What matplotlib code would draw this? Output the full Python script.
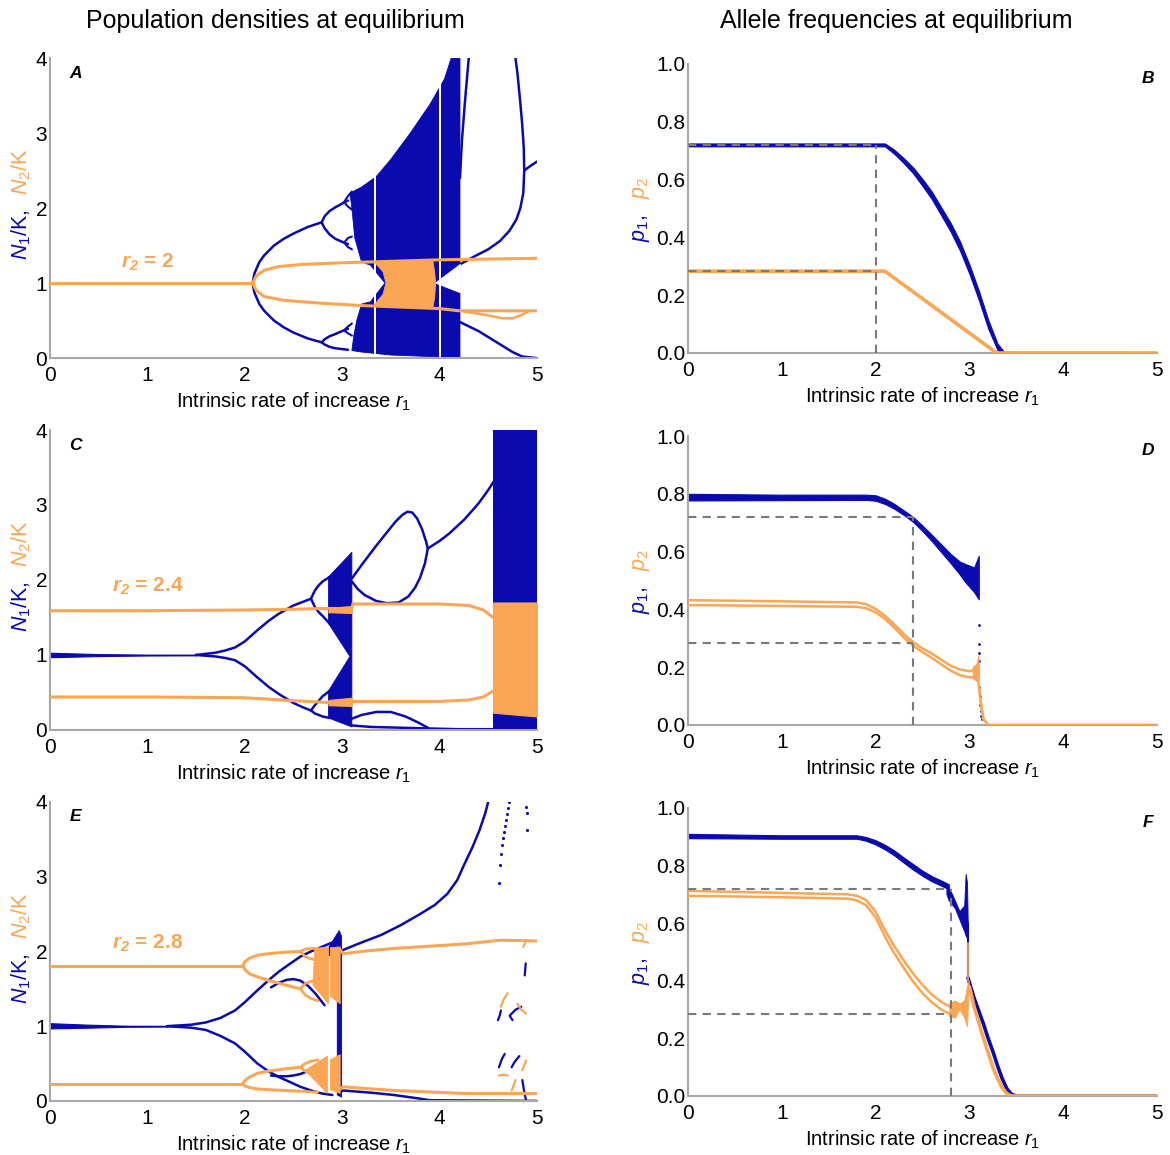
import matplotlib
matplotlib.use("Agg")
import matplotlib.pyplot as plt

plt.rcParams['font.family'] = ['Liberation Sans', 'DejaVu Sans']
plt.rcParams['mathtext.fontset'] = 'custom'
plt.rcParams['mathtext.rm'] = 'Liberation Sans'
plt.rcParams['mathtext.it'] = 'Liberation Sans:italic'
plt.rcParams['mathtext.bf'] = 'Liberation Sans:bold:italic'

BLUE = '#0a0aae'
ORANGE = '#fba655'
GREY = '#7a7a7a'

### panel A : r2 = 2 ###
A_or_flat_x = [0, 2.08]
A_or_flat_y = [1.0, 1.0]
A_br_x = [2.08, 2.12, 2.2, 2.35, 2.6, 3.0, 3.5, 4.0, 4.5, 5.0]
A_or_up_y = [1.0, 1.1, 1.17, 1.22, 1.25, 1.27, 1.29, 1.31, 1.32, 1.33]
A_or_lo_x = [2.08, 2.12, 2.2, 2.4, 2.8, 3.2, 3.6, 4.0, 4.2, 4.6, 5.0]
A_or_lo_y = [1.0, 0.9, 0.82, 0.77, 0.73, 0.70, 0.68, 0.66, 0.63, 0.63, 0.63]
A_or_loop_x = [4.25, 4.45, 4.65, 4.75, 4.85, 4.92]
A_or_loop_y = [0.62, 0.58, 0.53, 0.53, 0.58, 0.63]
A_or_fill_x = [3.33, 3.42, 3.45, 3.42, 3.33, 3.93, 3.95, 3.96, 3.95, 3.93]
A_or_fill_y = [1.28, 1.15, 1.0, 0.85, 0.71, 0.66, 0.8, 1.0, 1.15, 1.31]

A_p2_x = [2.08, 2.1, 2.15, 2.2, 2.3, 2.4, 2.5, 2.65, 2.79]
A_bl_up_y = [1.0, 1.13, 1.28, 1.37, 1.5, 1.59, 1.66, 1.75, 1.81]
A_bl_lo_y = [1.0, 0.87, 0.72, 0.63, 0.5, 0.41, 0.34, 0.26, 0.21]
A_p4_x = [2.79, 2.82, 2.87, 2.93, 3.0, 3.06]
A_p4_y = [[1.81, 1.89, 1.96, 2.01, 2.06, 2.1],
          [1.81, 1.73, 1.65, 1.59, 1.55, 1.52],
          [0.21, 0.25, 0.29, 0.32, 0.36, 0.39],
          [0.21, 0.18, 0.15, 0.13, 0.12, 0.11]]
A_p8_x = [3.02, 3.06, 3.1]
A_p8_y = [[2.08, 2.16, 2.22], [2.08, 2.02, 1.98],
          [1.54, 1.6, 1.62], [1.54, 1.48, 1.45],
          [0.37, 0.42, 0.46], [0.37, 0.33, 0.3]]
A_chaos_x = [3.08, 3.2, 3.35, 3.5, 3.7, 3.9, 4.05, 4.12, 4.21, 4.21,
             4.12, 3.9, 3.5, 3.2, 3.1, 3.12, 3.15, 3.2, 3.29, 3.44, 3.29, 3.2, 3.13, 3.1]
A_chaos_y = [2.2, 2.28, 2.42, 2.65, 3.0, 3.38, 3.72, 4.0, 4.0, 0.0,
             0.0, 0.02, 0.04, 0.08, 0.1, 0.3, 0.5, 0.72, 0.75, 1.0, 1.24, 1.28, 1.6, 2.0]
A_windows = [(3.33, 3.345), (3.99, 4.015)]
A_wedge_r_x = [3.96, 4.215, 4.215]
A_wedge_r_y = [1.0, 1.25, 0.87]
A_bl_r1_x = [4.30, 4.26, 4.23, 4.21]
A_bl_r1_y = [4.0, 3.4, 2.9, 2.4]
A_bl_r2_x = [4.21, 4.35, 4.5, 4.62, 4.72, 4.79, 4.83, 4.86, 4.87, 4.865, 4.85, 4.83, 4.80, 4.78]
A_bl_r2_y = [1.25, 1.35, 1.45, 1.56, 1.7, 1.85, 2.0, 2.2, 2.5, 2.8, 3.1, 3.4, 3.8, 4.0]
A_bl_r3_x = [4.87, 4.92, 5.0]
A_bl_r3_y = [2.5, 2.55, 2.62]
A_bl_r4_x = [4.21, 4.4, 4.6, 4.75, 4.85, 5.0]
A_bl_r4_y = [0.48, 0.36, 0.2, 0.08, 0.02, 0.0]

### panel B ###
B_bl_x = [0, 2.1, 2.2, 2.3, 2.4, 2.5, 2.6, 2.7, 2.8, 2.9, 3.0, 3.1, 3.2, 3.3, 3.37, 5.0]
B_bl_hi = [0.725, 0.725, 0.703, 0.674, 0.642, 0.602, 0.558, 0.504, 0.45, 0.386, 0.306, 0.216, 0.115, 0.032, 0.004, 0.003]
B_bl_lo = [0.715, 0.715, 0.689, 0.657, 0.622, 0.578, 0.532, 0.476, 0.42, 0.354, 0.274, 0.184, 0.085, 0.01, 0.0, 0.0]
B_or_x = [0, 2.1, 3.29, 5.0]
B_or_y = [0.283, 0.283, 0.0, 0.0]
B_guide = (2.0, 0.72, 0.283)

### panel C : r2 = 2.4 ###
C_or_x = [0, 1, 2, 2.5, 2.8, 3.0, 3.1, 3.11, 3.5, 4.0, 4.3, 4.45, 4.55]
C_or_up_y = [1.59, 1.59, 1.6, 1.61, 1.62, 1.62, 1.63, 1.68, 1.68, 1.68, 1.66, 1.6, 1.5]
C_or_lo_y = [0.44, 0.44, 0.43, 0.39, 0.37, 0.36, 0.36, 0.38, 0.38, 0.38, 0.40, 0.44, 0.52]
C_or_band_x = [2.86, 3.1]
C_or_band = [([1.57, 1.56], [1.63, 1.65]), ([0.33, 0.32], [0.40, 0.43])]
C_or_fill_x = [4.55, 5.0]
C_or_fill_lo = [0.23, 0.18]
C_or_fill_hi = [1.70, 1.70]

C_bl_flat_x = [0, 0.5, 1.0, 1.5]
C_bl_flat_lo = [0.97, 0.985, 0.993, 0.995]
C_bl_flat_hi = [1.03, 1.012, 1.005, 1.005]
C_p2_x = [1.5, 1.7, 1.8, 1.9, 2.0, 2.13, 2.25, 2.35, 2.5, 2.6, 2.68]
C_bl_up_y = [1.0, 1.03, 1.06, 1.1, 1.18, 1.33, 1.46, 1.55, 1.66, 1.71, 1.75]
C_bl_lo_y = [1.0, 0.98, 0.96, 0.93, 0.85, 0.70, 0.57, 0.48, 0.36, 0.3, 0.26]
C_p4_x = [2.68, 2.72, 2.76, 2.8, 2.87]
C_p4_y = [[1.75, 1.86, 1.93, 1.98, 2.04],
          [1.75, 1.64, 1.57, 1.52, 1.42],
          [0.26, 0.33, 0.39, 0.45, 0.52],
          [0.26, 0.22, 0.2, 0.18, 0.16]]
C_chaos_x = [2.86, 3.1, 3.1, 2.86, 2.86, 3.08, 2.86]
C_chaos_y = [2.04, 2.37, 0.04, 0.16, 0.52, 0.98, 1.42]
C_loop_up_x = [3.1, 3.2, 3.34, 3.45, 3.55, 3.62, 3.67, 3.72, 3.77, 3.82, 3.86, 3.88]
C_loop_up_y = [2.02, 2.2, 2.44, 2.62, 2.78, 2.87, 2.91, 2.9, 2.82, 2.68, 2.52, 2.42]
C_loop_lo_x = [3.1, 3.16, 3.23, 3.35, 3.46, 3.58, 3.68, 3.75, 3.8, 3.85, 3.88]
C_loop_lo_y = [1.98, 1.88, 1.8, 1.72, 1.69, 1.70, 1.78, 1.9, 2.03, 2.22, 2.42]
C_after_x = [3.88, 4.0, 4.1, 4.25, 4.4, 4.5, 4.56]
C_after_y = [2.42, 2.52, 2.62, 2.8, 3.02, 3.2, 3.32]
C_low_up_x = [3.1, 3.2, 3.35, 3.5, 3.65, 3.78, 3.88]
C_low_up_y = [0.15, 0.2, 0.24, 0.24, 0.18, 0.1, 0.03]
C_low_lo_x = [3.1, 3.3, 3.6, 3.88, 4.2, 4.56]
C_low_lo_y = [0.06, 0.04, 0.03, 0.02, 0.01, 0.01]
C_chaos2_x = [4.55, 5.0]

### panel D ###
D_bl_x = [0, 1.0, 1.9, 2.0, 2.1, 2.2, 2.3, 2.4, 2.5, 2.6, 2.7, 2.8, 2.9, 2.95, 3.05, 3.1]
D_bl_hi = [0.800, 0.797, 0.797, 0.795, 0.783, 0.765, 0.743, 0.72, 0.69, 0.658, 0.625, 0.592, 0.565, 0.558, 0.545, 0.585]
D_bl_lo = [0.777, 0.778, 0.779, 0.776, 0.765, 0.748, 0.727, 0.703, 0.671, 0.636, 0.598, 0.56, 0.52, 0.497, 0.46, 0.435]
D_bl_dots_x = [3.1, 3.1, 3.1, 3.1, 3.1, 3.11, 3.11, 3.12, 3.12, 3.13]
D_bl_dots_y = [0.345, 0.28, 0.25, 0.22, 0.13, 0.10, 0.07, 0.05, 0.03, 0.02]
D_or_x = [0, 1, 1.8, 1.9, 2.0, 2.1, 2.2, 2.3, 2.4, 2.5, 2.6, 2.7, 2.8, 2.9, 3.0, 3.05]
D_or_a = [0.432, 0.428, 0.424, 0.418, 0.402, 0.378, 0.348, 0.315, 0.287, 0.265, 0.247, 0.226, 0.205, 0.192, 0.186, 0.19]
D_or_b = [0.415, 0.412, 0.409, 0.404, 0.39, 0.367, 0.337, 0.303, 0.275, 0.252, 0.232, 0.21, 0.188, 0.172, 0.165, 0.165]
D_or_spike_x = [3.04, 3.08, 3.1, 3.11, 3.1, 3.08, 3.04]
D_or_spike_y = [0.20, 0.21, 0.24, 0.18, 0.14, 0.15, 0.16]
D_or_drop_x = [3.1, 3.12, 3.15, 3.2, 5.0]
D_or_drop_y = [0.14, 0.08, 0.02, 0.0, 0.0]
D_guide = (2.4, 0.72, 0.283)

### panel E : r2 = 2.8 ###
E_or_flat_x = [0, 1.98]
E_or_up_flat = [1.81, 1.81]
E_or_lo_flat = [0.23, 0.23]
E_br_x = [1.98, 2.0, 2.05, 2.13, 2.25, 2.42, 2.57]
E_or_up_a = [1.81, 1.86, 1.91, 1.95, 1.97, 1.99, 2.0]
E_or_up_b = [1.81, 1.76, 1.7, 1.66, 1.61, 1.55, 1.5]
E_or_lo_a = [0.23, 0.27, 0.32, 0.37, 0.4, 0.43, 0.45]
E_or_lo_b = [0.23, 0.2, 0.18, 0.16, 0.15, 0.14, 0.13]
E_or_p4_x = [2.57, 2.62, 2.68, 2.75]
E_or_p4_y = [[2.0, 2.03, 2.04, 2.04],
             [2.0, 1.93, 1.9, 1.88],
             [1.5, 1.57, 1.6, 1.62],
             [1.5, 1.42, 1.37, 1.34],
             [0.45, 0.5, 0.53, 0.55],
             [0.45, 0.4, 0.37, 0.35],
             [0.13, 0.13, 0.12, 0.12]]
E_or_tri = [([2.72, 2.86, 2.86, 2.7], [2.04, 2.06, 1.3, 1.55]),
            ([2.62, 2.85, 2.85], [0.41, 0.6, 0.1]),
            ([2.88, 2.98, 2.98, 2.88], [2.05, 2.06, 1.3, 1.4]),
            ([2.88, 2.98, 2.98, 2.88], [0.55, 0.62, 0.1, 0.15])]
E_or_after_x = [2.98, 3.01, 3.2, 3.53, 3.9, 4.26, 4.63, 5.0]
E_or_after_up = [2.02, 1.97, 2.0, 2.04, 2.07, 2.1, 2.15, 2.14]
E_or_after_lo = [0.16, 0.19, 0.17, 0.14, 0.12, 0.10, 0.10, 0.10]

E_bl_flat_x = [0, 0.4, 0.8, 1.2]
E_bl_flat_lo = [0.97, 0.98, 0.992, 0.995]
E_bl_flat_hi = [1.04, 1.02, 1.006, 1.005]
E_p2_x = [1.2, 1.45, 1.6, 1.75, 1.9, 2.0, 2.13, 2.25, 2.35, 2.47, 2.57, 2.68, 2.79, 2.9]
E_bl_up_y = [1.0, 1.02, 1.05, 1.11, 1.21, 1.32, 1.48, 1.62, 1.73, 1.84, 1.93, 2.0, 2.06, 2.12]
E_bl_lo_y = [1.0, 0.98, 0.95, 0.87, 0.77, 0.66, 0.50, 0.39, 0.32, 0.25, 0.19, 0.14, 0.10, 0.08]
E_bl_sec_x = [2.27, 2.35, 2.43, 2.5, 2.57, 2.65, 2.73, 2.82]
E_bl_sec_up = [1.52, 1.58, 1.62, 1.63, 1.61, 1.54, 1.43, 1.28]
E_bl_sec_lo = [0.34, 0.33, 0.33, 0.34, 0.36, 0.4, 0.46, 0.55]
E_bl_chaos_x = [2.86, 2.97, 2.995, 2.995, 2.95, 2.95, 2.86]
E_bl_chaos_y = [2.05, 2.28, 2.2, 0.05, 0.08, 1.9, 1.95]
E_bl_after_x = [2.98, 3.01, 3.2, 3.4, 3.6, 3.8, 3.95, 4.08, 4.18, 4.26, 4.34, 4.41, 4.47, 4.5]
E_bl_after_y = [1.98, 2.02, 2.12, 2.22, 2.35, 2.5, 2.62, 2.77, 2.95, 3.18, 3.4, 3.62, 3.85, 4.0]
E_bl_low_x = [2.98, 3.01, 3.3, 3.53, 3.75, 3.9, 5.0]
E_bl_low_y = [0.12, 0.14, 0.11, 0.08, 0.04, 0.01, 0.0]
E_bl_dots_x = [4.61, 4.62, 4.63, 4.64, 4.65, 4.66, 4.67, 4.68, 4.69, 4.70, 4.71, 4.89, 4.90, 4.90]
E_bl_dots_y = [2.92, 3.15, 3.3, 3.42, 3.52, 3.6, 3.68, 3.76, 3.84, 3.92, 4.0, 3.93, 3.85, 3.62]
E_bl_bits = [([4.875, 4.885], [1.68, 1.84]),
             ([4.60, 4.62, 4.63], [1.08, 1.15, 1.21]),
             ([4.84, 4.78, 4.72, 4.75], [1.26, 1.22, 1.14, 1.08]),
             ([4.61, 4.64, 4.67], [0.45, 0.56, 0.63]),
             ([4.82, 4.77, 4.74], [0.6, 0.52, 0.45]),
             ([4.85, 4.87, 4.89], [0.28, 0.12, 0.0])]
E_or_bits = [([4.61, 4.66, 4.70], [0.34, 0.35, 0.34]),
             ([4.74, 4.76, 4.78], [0.14, 0.2, 0.28]),
             ([4.85, 4.87, 4.89], [0.41, 0.48, 0.54]),
             ([4.63, 4.66, 4.70], [1.26, 1.36, 1.44]),
             ([4.80, 4.84, 4.89], [1.30, 1.22, 1.17]),
             ([4.86, 4.88, 4.89], [2.06, 2.12, 2.15])]

### panel F ###
F_bl_x = [0, 1.0, 1.8, 1.9, 2.0, 2.1, 2.2, 2.3, 2.4, 2.5, 2.6, 2.7, 2.78]
F_bl_hi = [0.910, 0.905, 0.905, 0.899, 0.888, 0.872, 0.852, 0.828, 0.805, 0.782, 0.763, 0.748, 0.735]
F_bl_lo = [0.895, 0.893, 0.893, 0.886, 0.873, 0.856, 0.835, 0.81, 0.786, 0.764, 0.745, 0.73, 0.718]
F_bl_chaos_x = [2.76, 2.82, 2.9, 2.95, 2.965, 2.98, 2.99, 2.97, 2.95, 2.9, 2.85, 2.78, 2.76]
F_bl_chaos_y = [0.735, 0.70, 0.64, 0.66, 0.77, 0.74, 0.56, 0.55, 0.57, 0.61, 0.65, 0.68, 0.70]
F_bl_decl_x = [2.985, 3.05, 3.1, 3.15, 3.2, 3.25, 3.3, 3.35, 3.4, 3.45, 3.5, 5.0]
F_bl_decl_y = [0.41, 0.34, 0.295, 0.25, 0.20, 0.155, 0.105, 0.06, 0.025, 0.005, 0.0, 0.0]
F_or_x = [0, 1.0, 1.7, 1.8, 1.9, 2.0, 2.1, 2.2, 2.3, 2.4, 2.5, 2.6, 2.7, 2.79]
F_or_a = [0.712, 0.705, 0.70, 0.695, 0.68, 0.64, 0.575, 0.52, 0.47, 0.425, 0.385, 0.352, 0.327, 0.31]
F_or_b = [0.695, 0.69, 0.685, 0.679, 0.662, 0.62, 0.553, 0.495, 0.445, 0.397, 0.357, 0.325, 0.3, 0.285]
F_or_chaos_x = [2.79, 2.85, 2.9, 2.95, 2.98, 3.0, 2.98, 2.95, 2.9, 2.85, 2.79]
F_or_chaos_y = [0.32, 0.33, 0.32, 0.33, 0.38, 0.40, 0.24, 0.27, 0.30, 0.27, 0.275]
F_or_decl_x = [3.0, 3.05, 3.1, 3.15, 3.2, 3.25, 3.3, 3.35, 3.4, 3.45, 5.0]
F_or_decl_y = [0.38, 0.31, 0.255, 0.2, 0.15, 0.1, 0.06, 0.028, 0.008, 0.0, 0.0]
F_guide = (2.8, 0.72, 0.283)


def line(ax, x, y, c, lw=1.8, z=2):
    ax.plot(x, y, color=c, lw=lw, zorder=z, solid_capstyle='round', solid_joinstyle='round')


def band(ax, x, lo, hi, c, z=2):
    ax.fill_between(x, lo, hi, color=c, lw=0.8, zorder=z)


def poly(ax, x, y, c, z=2):
    ax.fill(x, y, color=c, lw=0.6, zorder=z)


def style(ax, ymax, letter, yticks, yfmt):
    ax.set_xlim(0, 5)
    ax.set_ylim(0, ymax)
    for s in ['top', 'right']:
        ax.spines[s].set_visible(False)
    for s in ['left', 'bottom']:
        ax.spines[s].set_color('#a8a8a8')
        ax.spines[s].set_linewidth(1.5)
    ax.set_xticks(range(6))
    ax.set_yticks(yticks)
    ax.set_yticklabels([yfmt.format(v) for v in yticks])
    ax.tick_params(length=0, labelsize=15)
    ax.tick_params(axis='x', pad=6)
    ax.tick_params(axis='y', pad=2)
    ax.set_xlabel('Intrinsic rate of increase $\\mathit{r}_1$', fontsize=14.5, labelpad=4)
    ax.text(0.052 if ymax == 4 else 0.981, 0.95, letter, transform=ax.transAxes,
            fontsize=12.5, fontweight='bold', style='italic', ha='center', va='center')


def ylab_density(ax):
    ax.text(-0.06, 0.41, '$N_1$/K,', transform=ax.transAxes, rotation=90, color=BLUE,
            fontsize=15.5, ha='center', va='center')
    ax.text(-0.06, 0.62, '$N_2$/K', transform=ax.transAxes, rotation=90, color=ORANGE,
            fontsize=15.5, ha='center', va='center')


def ylab_freq(ax):
    ax.text(-0.098, 0.433, '$p_1$,', transform=ax.transAxes, rotation=90, color=BLUE,
            fontsize=15.5, ha='center', va='center')
    ax.text(-0.098, 0.571, '$p_2$', transform=ax.transAxes, rotation=90, color=ORANGE,
            fontsize=15.5, ha='center', va='center')


def guides(ax, g):
    xg, y1, y2 = g
    kw = dict(color=GREY, lw=1.5, dashes=(4, 3), zorder=5)
    ax.plot([0, xg], [y1, y1], **kw)
    ax.plot([0, xg], [y2, y2], **kw)
    ax.plot([xg, xg], [0, y1], **kw)


fig = plt.figure(figsize=(11.7, 11.55), dpi=100)
axA = fig.add_axes([0.0427, 0.690, 0.4162, 0.2597])
axB = fig.add_axes([0.588, 0.6944, 0.4009, 0.2502])
axC = fig.add_axes([0.0427, 0.368, 0.4162, 0.2597])
axD = fig.add_axes([0.588, 0.3723, 0.4009, 0.2502])
axE = fig.add_axes([0.0427, 0.0468, 0.4162, 0.2589])
axF = fig.add_axes([0.588, 0.0511, 0.4009, 0.2494])

fig.text(0.235, 0.982, 'Population densities at equilibrium', ha='center', va='center', fontsize=18)
fig.text(0.766, 0.982, 'Allele frequencies at equilibrium', ha='center', va='center', fontsize=18)

# ---- A ----
ax = axA
line(ax, A_p2_x, A_bl_up_y, BLUE)
line(ax, A_p2_x, A_bl_lo_y, BLUE)
for ys in A_p4_y:
    line(ax, A_p4_x, ys, BLUE)
for ys in A_p8_y:
    line(ax, A_p8_x, ys, BLUE, lw=1.5)
poly(ax, A_chaos_x, A_chaos_y, BLUE)
for w0, w1 in A_windows:
    ax.axvspan(w0, w1, color='white', lw=0, zorder=2.2)
poly(ax, A_wedge_r_x, A_wedge_r_y, 'white', z=2.1)
line(ax, A_bl_r1_x, A_bl_r1_y, BLUE)
line(ax, A_bl_r2_x, A_bl_r2_y, BLUE)
line(ax, A_bl_r3_x, A_bl_r3_y, BLUE)
line(ax, A_bl_r4_x, A_bl_r4_y, BLUE)
line(ax, A_or_flat_x, A_or_flat_y, ORANGE, lw=2.2, z=3)
line(ax, A_br_x, A_or_up_y, ORANGE, lw=2.2, z=3)
line(ax, A_or_lo_x, A_or_lo_y, ORANGE, lw=2.2, z=3)
line(ax, A_or_loop_x, A_or_loop_y, ORANGE, lw=1.8, z=3)
poly(ax, A_or_fill_x, A_or_fill_y, ORANGE, z=3)
ax.text(1.0, 1.28, '$\\mathbf{r}_\\mathbf{2}$ = 2', color=ORANGE, fontsize=15,
        fontweight='bold', ha='center', va='center')
style(ax, 4, 'A', [0, 1, 2, 3, 4], '{:d}')
ylab_density(ax)

# ---- B ----
ax = axB
band(ax, B_bl_x, B_bl_lo, B_bl_hi, BLUE)
line(ax, B_or_x, B_or_y, ORANGE, lw=2.6, z=3)
guides(ax, B_guide)
style(ax, 1.0, 'B', [0, 0.2, 0.4, 0.6, 0.8, 1.0], '{:.1f}')
ylab_freq(ax)

# ---- C ----
ax = axC
band(ax, C_bl_flat_x, C_bl_flat_lo, C_bl_flat_hi, BLUE)
line(ax, C_p2_x, C_bl_up_y, BLUE)
line(ax, C_p2_x, C_bl_lo_y, BLUE)
for ys in C_p4_y:
    line(ax, C_p4_x, ys, BLUE)
poly(ax, C_chaos_x, C_chaos_y, BLUE)
line(ax, C_loop_up_x, C_loop_up_y, BLUE)
line(ax, C_loop_lo_x, C_loop_lo_y, BLUE)
line(ax, C_after_x, C_after_y, BLUE)
line(ax, C_low_up_x, C_low_up_y, BLUE)
line(ax, C_low_lo_x, C_low_lo_y, BLUE)
ax.axvspan(C_chaos2_x[0], C_chaos2_x[1], color=BLUE, lw=0, zorder=2)
line(ax, C_or_x, C_or_up_y, ORANGE, lw=2.2, z=3)
line(ax, C_or_x, C_or_lo_y, ORANGE, lw=2.2, z=3)
for lo, hi in C_or_band:
    band(ax, C_or_band_x, lo, hi, ORANGE, z=3)
band(ax, C_or_fill_x, C_or_fill_lo, C_or_fill_hi, ORANGE, z=3)
ax.text(1.0, 1.91, '$\\mathbf{r}_\\mathbf{2}$ = 2.4', color=ORANGE, fontsize=15,
        fontweight='bold', ha='center', va='center')
style(ax, 4, 'C', [0, 1, 2, 3, 4], '{:d}')
ylab_density(ax)

# ---- D ----
ax = axD
band(ax, D_bl_x, D_bl_lo, D_bl_hi, BLUE)
ax.scatter(D_bl_dots_x, D_bl_dots_y, s=4, color=BLUE, lw=0, zorder=2)
line(ax, D_or_x, D_or_a, ORANGE, lw=1.8, z=3)
line(ax, D_or_x, D_or_b, ORANGE, lw=1.8, z=3)
poly(ax, D_or_spike_x, D_or_spike_y, ORANGE, z=3)
line(ax, D_or_drop_x, D_or_drop_y, ORANGE, lw=2.0, z=3)
guides(ax, D_guide)
style(ax, 1.0, 'D', [0, 0.2, 0.4, 0.6, 0.8, 1.0], '{:.1f}')
ylab_freq(ax)

# ---- E ----
ax = axE
band(ax, E_bl_flat_x, E_bl_flat_lo, E_bl_flat_hi, BLUE)
line(ax, E_p2_x, E_bl_up_y, BLUE)
line(ax, E_p2_x, E_bl_lo_y, BLUE)
line(ax, E_bl_sec_x, E_bl_sec_up, BLUE)
line(ax, E_bl_sec_x, E_bl_sec_lo, BLUE)
poly(ax, E_bl_chaos_x, E_bl_chaos_y, BLUE)
line(ax, E_bl_after_x, E_bl_after_y, BLUE)
line(ax, E_bl_low_x, E_bl_low_y, BLUE)
ax.scatter(E_bl_dots_x, E_bl_dots_y, s=5, color=BLUE, lw=0, zorder=2)
for bx, by in E_bl_bits:
    line(ax, bx, by, BLUE, lw=1.6)
line(ax, E_or_flat_x, E_or_up_flat, ORANGE, lw=2.2, z=3)
line(ax, E_or_flat_x, E_or_lo_flat, ORANGE, lw=2.2, z=3)
for ys in [E_or_up_a, E_or_up_b, E_or_lo_a, E_or_lo_b]:
    line(ax, E_br_x, ys, ORANGE, lw=2.2, z=3)
for ys in E_or_p4_y:
    line(ax, E_or_p4_x, ys, ORANGE, lw=2.0, z=3)
for tx, ty in E_or_tri:
    poly(ax, tx, ty, ORANGE, z=3)
line(ax, E_or_after_x, E_or_after_up, ORANGE, lw=2.2, z=3)
line(ax, E_or_after_x, E_or_after_lo, ORANGE, lw=2.2, z=3)
for bx, by in E_or_bits:
    line(ax, bx, by, ORANGE, lw=1.6, z=3)
ax.text(1.0, 2.11, '$\\mathbf{r}_\\mathbf{2}$ = 2.8', color=ORANGE, fontsize=15,
        fontweight='bold', ha='center', va='center')
style(ax, 4, 'E', [0, 1, 2, 3, 4], '{:d}')
ylab_density(ax)

# ---- F ----
ax = axF
band(ax, F_bl_x, F_bl_lo, F_bl_hi, BLUE)
poly(ax, F_bl_chaos_x, F_bl_chaos_y, BLUE)
line(ax, [2.985, 2.985], [0.41, 0.60], BLUE, lw=1.5)
line(ax, F_bl_decl_x, F_bl_decl_y, BLUE, lw=2.6)
line(ax, F_or_x, F_or_a, ORANGE, lw=1.8, z=3)
line(ax, F_or_x, F_or_b, ORANGE, lw=1.8, z=3)
poly(ax, F_or_chaos_x, F_or_chaos_y, ORANGE, z=3)
line(ax, [2.99, 2.99], [0.40, 0.53], ORANGE, lw=1.2, z=3)
line(ax, F_or_decl_x, F_or_decl_y, ORANGE, lw=2.6, z=3)
guides(ax, F_guide)
style(ax, 1.0, 'F', [0, 0.2, 0.4, 0.6, 0.8, 1.0], '{:.1f}')
ylab_freq(ax)

fig.savefig('out.png', dpi=100)
